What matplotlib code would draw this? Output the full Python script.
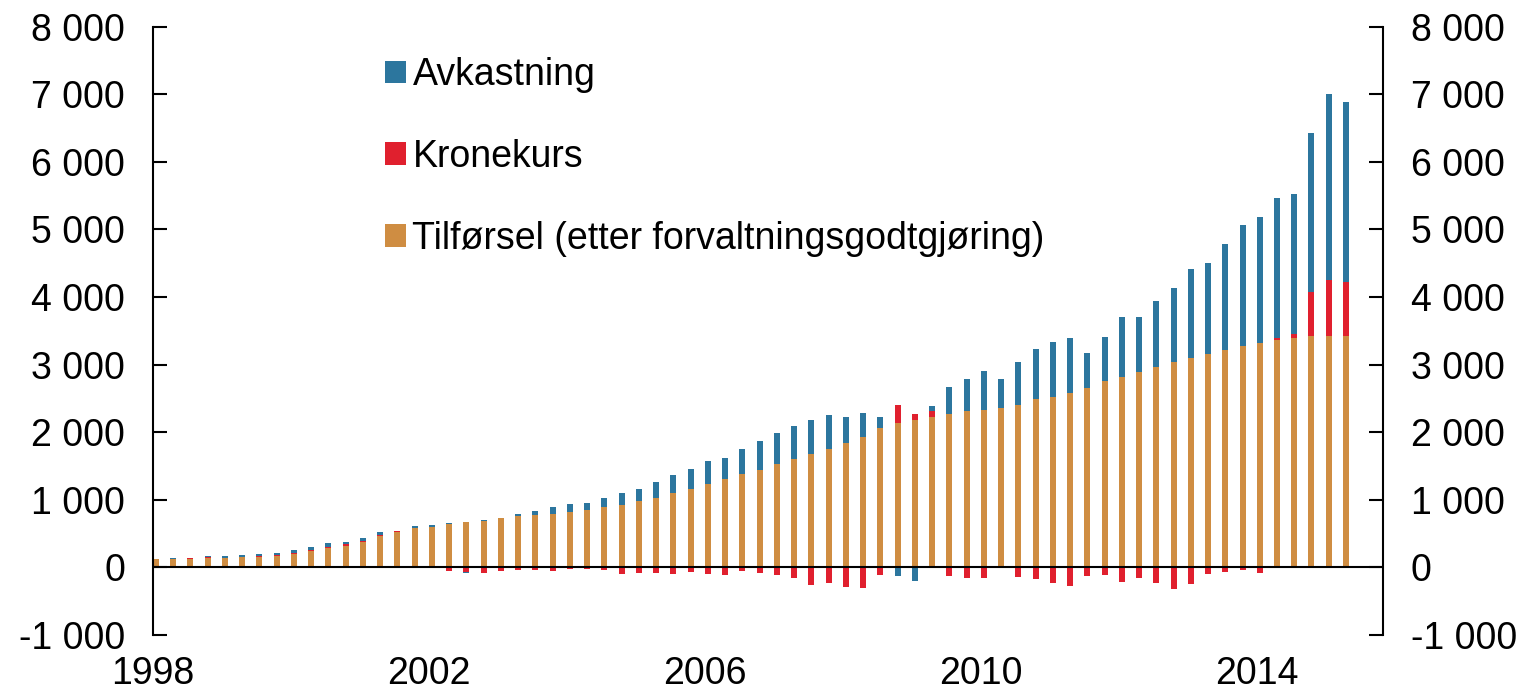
import matplotlib
matplotlib.use("Agg")
import matplotlib.pyplot as plt
import numpy as np

# Quarterly data 1998Q1 - 2015Q2 (NOK bn)
start_year = 1998
tilforsel = [118, 118, 125, 140, 143, 153, 160, 165, 200, 240,
             283, 310, 370, 463, 518, 577, 592, 641, 678, 680,
             730, 755, 779, 797, 815, 845, 897, 930, 976, 1032,
             1094, 1154, 1233, 1302, 1377, 1437, 1533, 1597, 1673, 1753,
             1839, 1930, 2061, 2135, 2182, 2223, 2273, 2312, 2327, 2362,
             2406, 2485, 2525, 2578, 2657, 2756, 2818, 2889, 2970, 3037,
             3098, 3157, 3216, 3274, 3313, 3362, 3392, 3421, 3431, 3431]
kronekurs = [0, 0, 12, 12, 3, 8, 12, 15, 20, 22,
             25, 35, 20, 20, 22, 5, 0, -60, -68, -90,
             -50, -35, -40, -52, -28, -22, -45, -100, -85, -85,
             -95, -65, -95, -115, -50, -88, -112, -159, -263, -238,
             -283, -298, -110, 266, 86, 84, -120, -150, -150, 0,
             -140, -165, -228, -276, -128, -108, -220, -150, -235, -322,
             -240, -96, -66, -35, -79, 39, 54, 661, 828, 794]
avkastning = [0, 18, 4, 15, 25, 20, 20, 40, 45, 38,
              48, 38, 38, 35, 4, 28, 30, 18, -18, 15,
              5, 42, 57, 91, 118, 115, 133, 175, 185, 228,
              266, 298, 335, 310, 378, 430, 451, 495, 513, 503,
              392, 357, 168, -130, -195, 74, 394, 473, 585, 427,
              626, 740, 803, 809, 518, 660, 889, 813, 976, 1104,
              1321, 1341, 1568, 1795, 1873, 2071, 2085, 2342, 2741, 2662]

labels = ["Avkastning", "Kronekurs", "Tilførsel (etter forvaltningsgodtgjøring)"]
yticks = list(range(-1000, 8001, 1000))
xticks = [1998, 2002, 2006, 2010, 2014]

c_orange = "#CF8D42"
c_red = "#E0202E"
c_blue = "#2C769E"

plt.rcParams['font.family'] = ['Liberation Sans', 'DejaVu Sans']

t = np.array(tilforsel, float)
k = np.array(kronekurs, float)
a = np.array(avkastning, float)
x = start_year + np.arange(len(t)) * 0.25

k_bottom = np.where(k >= 0, t, 0.0)
a_bottom = np.where(a >= 0, t + np.maximum(k, 0), np.minimum(k, 0))

fig = plt.figure(figsize=(15.23, 6.94), dpi=100)
ax = fig.add_axes([153/1523, 1 - 635/694, (1383-153)/1523, (635-26.7)/694])

w = 0.087
b_t = ax.bar(x, t, width=w, align='edge', color=c_orange, linewidth=0)
b_k = ax.bar(x, k, bottom=k_bottom, width=w, align='edge', color=c_red, linewidth=0)
b_a = ax.bar(x, a, bottom=a_bottom, width=w, align='edge', color=c_blue, linewidth=0)

ax.axhline(0, color='black', linewidth=1.5, zorder=5)

ax.set_xlim(1998, 2015.83)
ax.set_ylim(-1000, 8000)
ax.set_yticks(yticks)
ax.set_yticklabels([f"{v:,}".replace(",", " ") for v in yticks])
ax.set_xticks(xticks)
ax.set_xticklabels([str(v) for v in xticks])

ax.tick_params(axis='y', which='both', direction='in', length=10, width=1.5,
               labelsize=27, pad=20, left=True, right=True, labelleft=True, labelright=True)
ax.tick_params(axis='x', length=0, labelsize=27, pad=15)

for s in ['top', 'bottom']:
    ax.spines[s].set_visible(False)
for s in ['left', 'right']:
    ax.spines[s].set_linewidth(1.5)

leg = ax.legend([b_a, b_k, b_t], labels, loc='upper left',
                bbox_to_anchor=(0.189, 0.95), frameon=False, fontsize=27,
                handlelength=0.55, handleheight=0.55, handletextpad=0.17,
                labelspacing=1.22, borderaxespad=0, borderpad=0)

fig.savefig("out.png", dpi=100)
